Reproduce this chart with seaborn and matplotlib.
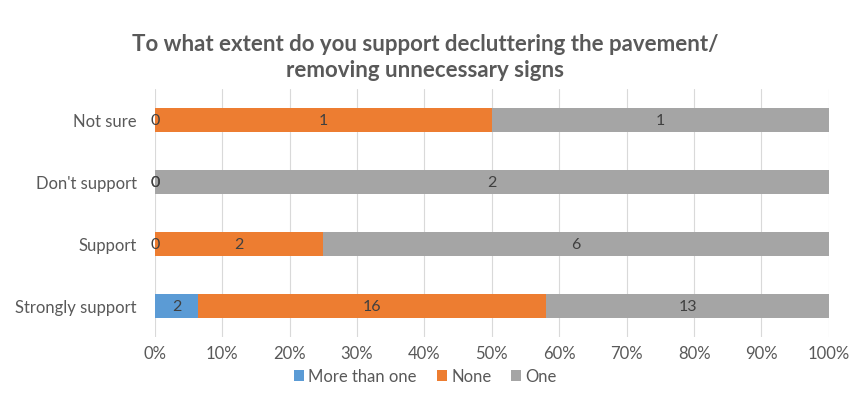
import matplotlib
matplotlib.use("Agg")
import matplotlib.pyplot as plt
import numpy as np
import pandas as pd
import seaborn as sns

# data (counts per answer)
categories = ["Not sure", "Don't support", "Support", "Strongly support"]
series_names = ["More than one", "None", "One"]
more_than_one = [0, 0, 0, 2]
none = [1, 0, 2, 16]
one = [1, 2, 6, 13]
tick_labels = ["0%", "10%", "20%", "30%", "40%", "50%", "60%", "70%", "80%", "90%", "100%"]

colors = ["#5B9BD5", "#ED7D31", "#A5A5A5"]
text_color = "#595959"


def build_frame() -> pd.DataFrame:
    df = pd.DataFrame({"category": categories,
                       "More than one": more_than_one,
                       "None": none,
                       "One": one})
    totals = df[series_names].sum(axis=1)
    for name in series_names:
        df[name + "_pct"] = df[name] / totals * 100
    # cumulative right edge of each segment
    cum = np.cumsum(df[[n + "_pct" for n in series_names]].values, axis=1)
    for i, name in enumerate(series_names):
        df[name + "_cum"] = cum[:, i]
    return df


def main():
    sns.set_theme(style="white")
    plt.rcParams["font.family"] = ["Lato", "DejaVu Sans"]

    df = build_frame()
    fig = plt.figure(figsize=(8.51, 4.10), dpi=100)
    ax = fig.add_axes([0.182, 0.176, 0.792, 0.605])

    # draw from the widest cumulative layer down so segments stack
    for name, color in reversed(list(zip(series_names, colors))):
        sns.barplot(data=df, y="category", x=name + "_cum", order=categories,
                    color=color, saturation=1, width=0.39, ax=ax,
                    edgecolor="none", label=name)

    # segment labels
    for i, row in df.iterrows():
        left = 0
        for name in series_names:
            pct = row[name + "_pct"]
            xpos = left + pct / 2 if pct > 0 else 0
            ax.text(xpos, i, str(row[name]), ha="center", va="center",
                    fontsize=11.5, color="#404040")
            left += pct

    ax.set_xlim(0, 100)
    ax.set_ylim(3.5, -0.5)
    ax.set_xticks(np.arange(0, 101, 10))
    ax.set_xticklabels(tick_labels)
    ax.set_xlabel("")
    ax.set_ylabel("")
    ax.xaxis.grid(True, color="#D9D9D9", linewidth=0.8)
    ax.set_axisbelow(True)
    for side in ["top", "right", "bottom", "left"]:
        ax.spines[side].set_visible(False)
    ax.tick_params(axis="both", length=0, labelsize=12, colors=text_color)
    ax.tick_params(axis="y", pad=13)
    ax.tick_params(axis="x", pad=6)

    handles, labels = ax.get_legend_handles_labels()
    order = [labels.index(n) for n in series_names]
    fig.legend([handles[k] for k in order], series_names, loc="center",
               bbox_to_anchor=(0.5, 0.08), ncol=3, frameon=False,
               fontsize=12, handlelength=0.6, handleheight=0.6,
               handletextpad=0.25, columnspacing=1.2, labelcolor=text_color)
    if ax.get_legend() is not None:
        ax.get_legend().remove()

    fig.text(0.5, 0.86, "To what extent do you support decluttering the pavement/\nremoving unnecessary signs",
             ha="center", va="center", fontsize=16, fontweight="bold",
             color=text_color, linespacing=1.25)

    fig.savefig("out.png", dpi=100)


if __name__ == "__main__":
    main()
